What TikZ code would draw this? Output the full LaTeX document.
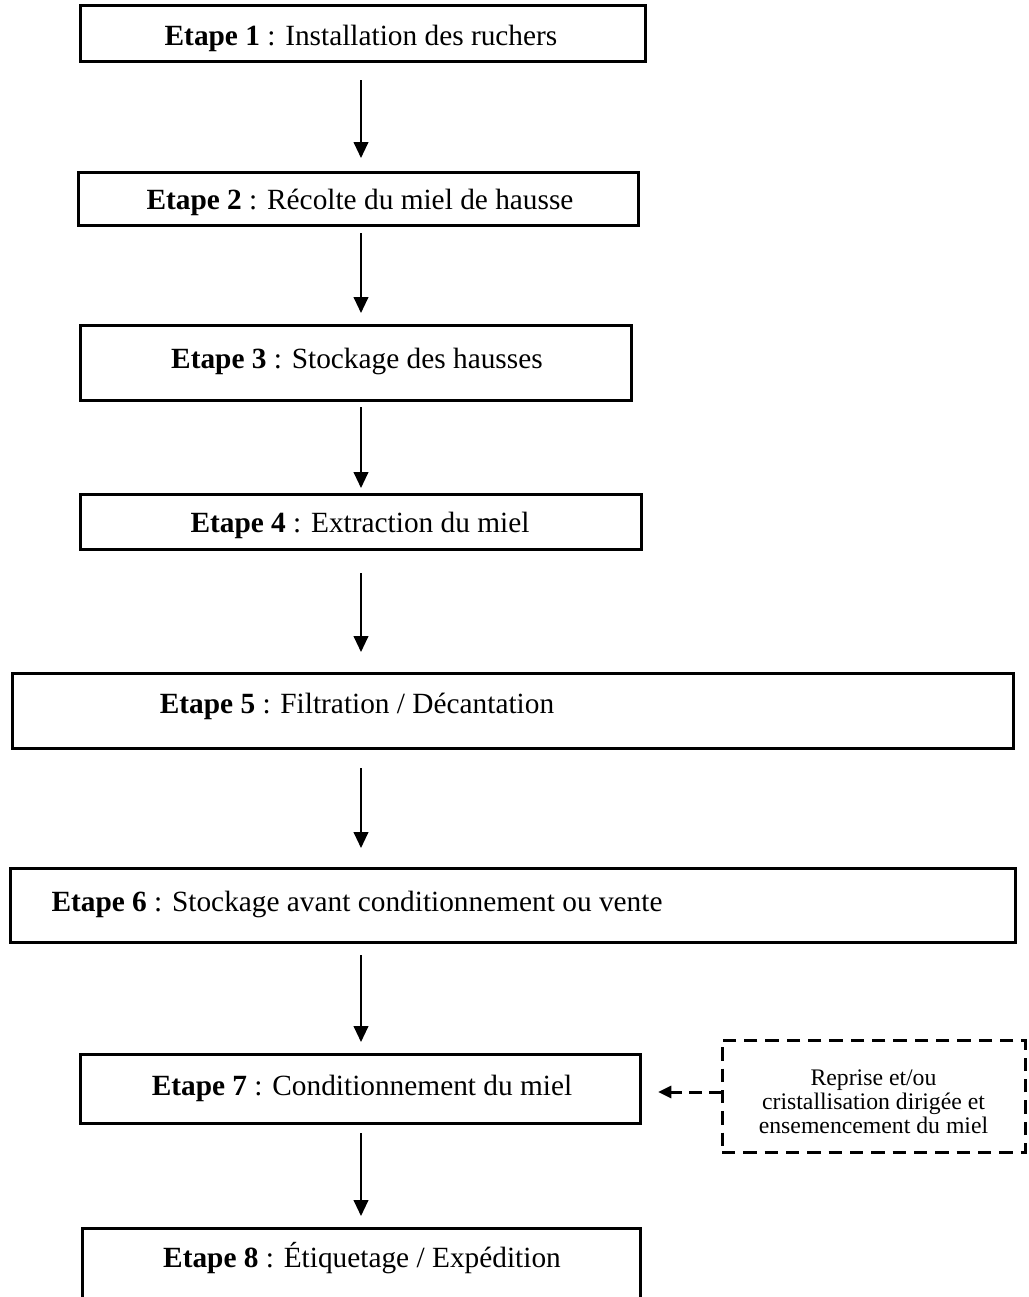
\documentclass[tikz,border=0pt]{standalone}
\usepackage{fontspec}
\setmainfont{Liberation Serif}
\usetikzlibrary{arrows.meta}
\begin{document}
\begin{tikzpicture}[x=0.75pt,y=-0.75pt,
 stepbox/.style={draw, line width=2.25pt, inner sep=0pt, outer sep=0pt, anchor=north west},
 steptext/.style={anchor=base, inner sep=0pt, font=\fontsize{22}{26}\selectfont},
 flow/.style={line width=1.5pt, -{Triangle[length=12pt,width=11pt]}},
 notebox/.style={draw, dash pattern=on 10pt off 6pt, line width=2.25pt, inner sep=0pt, outer sep=0pt,
   minimum width=227.25pt, minimum height=84pt},
 notetext/.style={inner sep=0pt, align=center, font=\fontsize{17.8}{18}\selectfont},
 dflow/.style={line width=2.25pt, dash pattern=on 10pt off 5pt, -{Triangle[length=10pt,width=9pt]}}
]
\useasboundingbox (0,0) rectangle (1029,1297);
\fill[white] (0,0) rectangle (1029,1297);

% boxes
\node[stepbox, minimum width=423.75pt, minimum height=42pt]    (b1) at (80,5) {};
\node[stepbox, minimum width=420pt,    minimum height=39.75pt] (b2) at (78,172) {};
\node[stepbox, minimum width=413.25pt, minimum height=56.25pt] (b3) at (80,325) {};
\node[stepbox, minimum width=420.75pt, minimum height=41.25pt] (b4) at (80,494) {};
\node[stepbox, minimum width=750.75pt, minimum height=56.25pt] (b5) at (12,673) {};
\node[stepbox, minimum width=753.75pt, minimum height=55.5pt]  (b6) at (10,868) {};
\node[stepbox, minimum width=420pt,    minimum height=51.75pt] (b7) at (80,1054) {};
\node[stepbox, minimum width=418.5pt,  minimum height=90pt]    (b8) at (82,1228) {};

% texts
\node[steptext] (t1) at (361,45)   {\textbf{Etape 1} : Installation des ruchers};
\node[steptext] (t2) at (360,209)  {\textbf{Etape 2} : Récolte du miel de hausse};
\node[steptext] (t3) at (357,368)  {\textbf{Etape 3} : Stockage des hausses};
\node[steptext] (t4) at (360,532)  {\textbf{Etape 4} : Extraction du miel};
\node[steptext] (t5) at (357,713)  {\textbf{Etape 5} : Filtration / Décantation};
\node[steptext] (t6) at (357,911)  {\textbf{Etape 6} : Stockage avant conditionnement ou vente};
\node[steptext] (t7) at (362,1095) {\textbf{Etape 7} : Conditionnement du miel};
\node[steptext] (t8) at (362,1267) {\textbf{Etape 8} : Étiquetage / Expédition};

% side note
\node[notebox] (d) at (873.5,1096) {};
\node[notetext] (dt) at (873.5,1102) {Reprise et/ou\\cristallisation dirigée et\\ensemencement du miel};

% flow arrows
\coordinate (ax) at (361,0);
\draw[flow, shorten <=14.25pt, shorten >=10.5pt] (b1.south -| ax) -- (b2.north -| ax);
\draw[flow, shorten <=6pt,     shorten >=9pt]    (b2.south -| ax) -- (b3.north -| ax);
\draw[flow, shorten <=5.25pt,  shorten >=4.5pt]  (b3.south -| ax) -- (b4.north -| ax);
\draw[flow, shorten <=18pt,    shorten >=15.75pt](b4.south -| ax) -- (b5.north -| ax);
\draw[flow, shorten <=15pt,    shorten >=15pt]   (b5.south -| ax) -- (b6.north -| ax);
\draw[flow, shorten <=9.75pt,  shorten >=9pt]    (b6.south -| ax) -- (b7.north -| ax);
\draw[flow, shorten <=7.5pt,   shorten >=9pt]    (b7.south -| ax) -- (b8.north -| ax);

\draw[dflow, shorten >=13.5pt] ([yshift=3pt]d.west) -- ([yshift=3pt]d.west -| b7.east);
\end{tikzpicture}
\end{document}
